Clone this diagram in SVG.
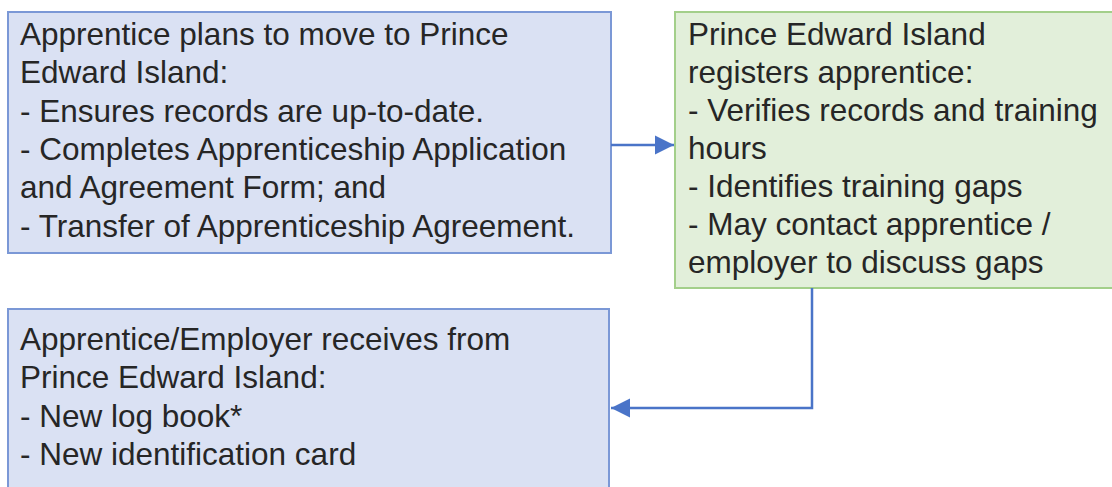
<svg xmlns="http://www.w3.org/2000/svg" width="1112" height="487" viewBox="0 0 1112 487">
<defs>
<style>
.blue{fill:#dae1f3;stroke:#7b98d6;stroke-width:2}
.green{fill:#e2efda;stroke:#a3cf8a;stroke-width:2}
.t{font-family:"Liberation Sans",Arial,sans-serif;font-size:31.5px;fill:#262626}
.conn{fill:none;stroke:#4a74c8;stroke-width:2.5}
</style>
<marker id="ah" viewBox="0 0 10 10" refX="10" refY="5" markerWidth="7.6" markerHeight="8" markerUnits="strokeWidth" orient="auto">
<path d="M0,0 L10,5 L0,10 Z" fill="#4a74c8"/>
</marker>
</defs>
<rect width="1112" height="487" fill="#ffffff"/>
<g id="n1">
<rect class="blue" x="8" y="12" width="603" height="241"/>
<text class="t" x="20" y="45">Apprentice plans to move to Prince</text>
<text class="t" x="20" y="83.3">Edward Island:</text>
<text class="t" x="20" y="121.6">- Ensures records are up-to-date.</text>
<text class="t" x="20" y="159.9">- Completes Apprenticeship Application</text>
<text class="t" x="20" y="198.2">and Agreement Form; and</text>
<text class="t" x="20" y="236.5">- Transfer of Apprenticeship Agreement.</text>
</g>
<g id="n2">
<rect class="green" x="675" y="12" width="445" height="276"/>
<text class="t" x="688" y="45">Prince Edward Island</text>
<text class="t" x="688" y="83">registers apprentice:</text>
<text class="t" x="688" y="121">- Verifies records and training</text>
<text class="t" x="688" y="159">hours</text>
<text class="t" x="688" y="197">- Identifies training gaps</text>
<text class="t" x="688" y="235">- May contact apprentice /</text>
<text class="t" x="688" y="273">employer to discuss gaps</text>
</g>
<g id="n3">
<rect class="blue" x="8" y="309" width="601" height="200"/>
<text class="t" x="20" y="350">Apprentice/Employer receives from</text>
<text class="t" x="20" y="388.3">Prince Edward Island:</text>
<text class="t" x="20" y="426.6">- New log book*</text>
<text class="t" x="20" y="464.9">- New identification card</text>
</g>
<g id="connectors">
<path class="conn" d="M611,145 H674" marker-end="url(#ah)"/>
<path class="conn" d="M812,288 V408 H611" marker-end="url(#ah)"/>
</g>
</svg>
